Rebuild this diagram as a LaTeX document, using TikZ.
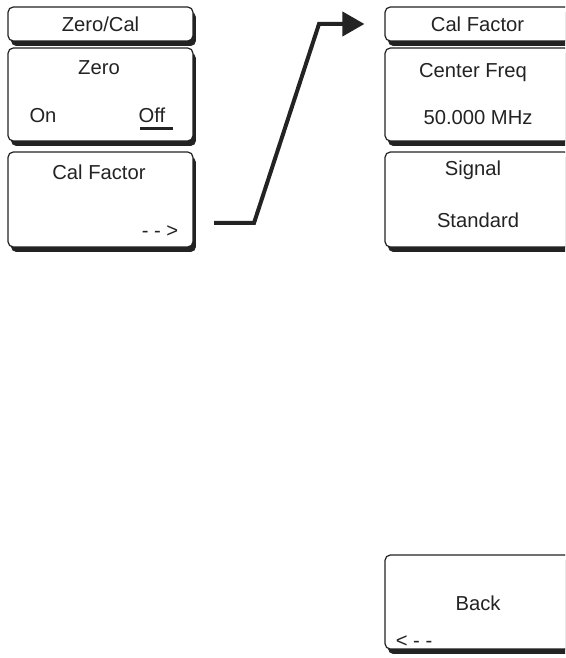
\documentclass[tikz,border=0pt]{standalone}
\usepackage{fontspec}
\setmainfont{Liberation Sans}
\usetikzlibrary{arrows.meta,shadows}
\definecolor{keyInk}{RGB}{35,35,35}

\begin{document}
\begin{tikzpicture}[x=0.02cm,y=-0.02cm,
  softkey/.style={rectangle,draw=keyInk,line width=0.7pt,fill=white,rounded corners=3pt,
                  minimum width=3.7cm,inner sep=0pt,text=keyInk,font=\fontsize{11.5}{13}\selectfont,
                  drop shadow={shadow xshift=0.06cm,shadow yshift=-0.1cm,fill=keyInk,opacity=1}},
  lbl/.style={anchor=base,inner sep=0pt,text=keyInk,font=\fontsize{11.5}{13}\selectfont},
  arr/.style={-{Triangle[length=0.44cm,width=0.48cm]},line width=0.08cm,draw=keyInk}
]
  \useasboundingbox (0,0) rectangle (565,658);
  \clip (0,0) rectangle (565,658);
  % left menu
  \node[softkey,minimum height=0.68cm](zc)   at (100.5,24)  {Zero/Cal};
  \node[softkey,minimum height=1.86cm](zero) at (100.5,94.5) {};
  \node[softkey,minimum height=1.9cm] (calf) at (100.5,199.5) {};
  \node[lbl](zerolbl) at (99,75)   {Zero};
  \node[lbl](on)      at (43,123)  {On};
  \node[lbl](off)     at (152,123) {Off};
  \node[lbl](calflbl) at (99,180)  {Cal Factor};
  \node[lbl](more)    at (160,237) {- - >};
  \draw[line width=0.06cm,keyInk](140,129)--(173,129);
  % right menu
  \node[softkey,minimum height=0.68cm](cft)  at (477.5,24)  {Cal Factor};
  \node[softkey,minimum height=1.86cm](freq) at (477.5,94.5) {};
  \node[softkey,minimum height=1.9cm] (sig)  at (477.5,199.5) {};
  \node[softkey,minimum height=1.88cm](back) at (477.5,602) {};
  \node[lbl](freqlbl) at (473,78)  {Center Freq};
  \node[lbl](freqval) at (478,125) {50.000 MHz};
  \node[lbl](siglbl)  at (473,176) {Signal};
  \node[lbl](stdlbl)  at (478,228) {Standard};
  \node[lbl](backlbl) at (478,610) {Back};
  \node[lbl](less)    at (414,647) {< - -};
  % jump to submenu
  \coordinate(jump) at (214,223);
  \draw[arr,shorten >=0.4cm](jump)--(254,223)--(319,24)--(cft.west);
\end{tikzpicture}
\end{document}
